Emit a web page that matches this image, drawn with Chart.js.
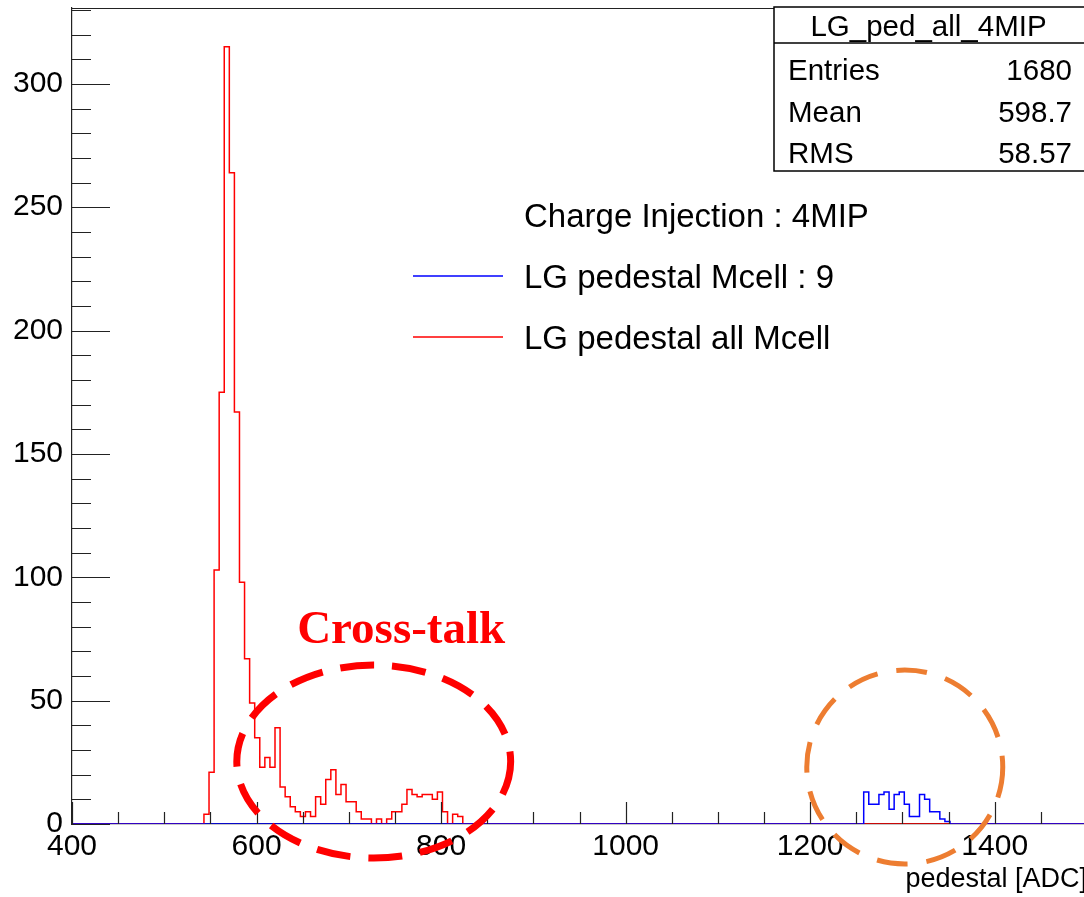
<!DOCTYPE html>
<html>
<head>
<meta charset="utf-8">
<title>LG pedestal</title>
<script src="https://cdn.jsdelivr.net/npm/chart.js@4.4.1/dist/chart.umd.min.js"></script>
<style>
  html, body { margin: 0; padding: 0; background: #fff; overflow: hidden; }
  #wrap { position: relative; width: 1092px; height: 897px; }
</style>
</head>
<body>
<div id="wrap"><canvas id="ped"></canvas></div>
<script>
// Binning: 200 bins of 5.5 ADC between 400 and 1500
const xMin = 400;
const xMax = 1500;
const binWidth = 5.5;
const yMax = 330.75;

// LG pedestal, all Mcells (bin index 26 = 543 ADC onward)
const redFirstBin = 26;
const redCounts = [4, 21, 103, 175, 315, 264, 167, 98, 67, 49,
                   35, 23, 27, 23, 39, 15, 11, 7, 5, 3,
                   5, 3, 11, 8, 18, 22, 12, 16, 9, 9,
                   5, 2, 2, 0, 2, 0, 2, 5, 5, 8,
                   14, 12, 11, 12, 12, 10, 13, 5, 0, 4,
                   3];

// LG pedestal, Mcell 9 (bin index 156 = 1258 ADC onward)
const blueFirstBin = 156;
const blueCounts = [13, 8, 8, 12, 13, 6, 12, 13, 8, 3, 3, 12, 10, 5, 5, 2, 1];

const xTickLabels = [400, 600, 800, 1000, 1200, 1400];
const yTickLabels = [0, 50, 100, 150, 200, 250, 300];

const legendHeader = 'Charge Injection : 4MIP';
const seriesNames = ['LG pedestal Mcell : 9', 'LG pedestal all Mcell'];

const statsTitle = 'LG_ped_all_4MIP';
const statsLabels = ['Entries', 'Mean', 'RMS'];
const statsValues = ['1680', '598.7', '58.57'];

const SANS = "'Liberation Sans', Arial, Helvetica, sans-serif";
const SERIF = "'Liberation Serif', 'Times New Roman', serif";

// step outline: left edge of each bin carries its count
function stepPoints(firstBin, counts) {
  const pts = [{ x: xMin, y: 0 }];
  counts.forEach((c, i) => pts.push({ x: xMin + (firstBin + i) * binWidth, y: c }));
  pts.push({ x: xMin + (firstBin + counts.length) * binWidth, y: 0 });
  pts.push({ x: xMax, y: 0 });
  return pts;
}

// keep the plot frame exactly where the layout puts it
function fixBox(size, prop) {
  return s => {
    s[prop] = size;
    s.paddingTop = 0;
    s.paddingBottom = 0;
    s.paddingLeft = 0;
    s.paddingRight = 0;
  };
}

// ROOT style frame, inward ticks, stat box, legend and marks
const rootDecor = {
  id: 'rootDecor',
  afterDraw(chart) {
    const ctx = chart.ctx;
    const { left, right, top, bottom } = chart.chartArea;
    const xs = chart.scales.x;
    const ys = chart.scales.y;

    ctx.save();
    // frame + ticks
    ctx.strokeStyle = '#222';
    ctx.lineWidth = 1.2;
    ctx.beginPath();
    ctx.moveTo(left, top + 0.5);
    ctx.lineTo(right, top + 0.5);
    ctx.lineTo(right, bottom);
    for (let v = 0; v <= yMax; v += 10) {
      const y = Math.round(ys.getPixelForValue(v)) + 0.5;
      const len = v % 50 === 0 ? 38 : 19;
      ctx.moveTo(left, y);
      ctx.lineTo(left + len, y);
    }
    for (let v = xMin; v <= xMax; v += 50) {
      const x = Math.round(xs.getPixelForValue(v)) + 0.5;
      const len = (v - xMin) % 200 === 0 ? 22 : 12;
      ctx.moveTo(x, bottom);
      ctx.lineTo(x, bottom - len);
    }
    ctx.stroke();

    // stat box
    const bx = 774, by = 7, bw = 330, bh = 164;
    ctx.fillStyle = '#fff';
    ctx.fillRect(bx, by, bw, bh);
    ctx.strokeStyle = '#000';
    ctx.lineWidth = 1.5;
    ctx.strokeRect(bx, by, bw, bh);
    ctx.beginPath();
    ctx.moveTo(bx, 43);
    ctx.lineTo(bx + bw, 43);
    ctx.stroke();
    ctx.fillStyle = '#000';
    ctx.font = '29.5px ' + SANS;
    ctx.textBaseline = 'alphabetic';
    ctx.textAlign = 'center';
    ctx.fillText(statsTitle, 928.5, 36);
    statsLabels.forEach((lab, i) => {
      const yb = 80 + i * 41.5;
      ctx.textAlign = 'left';
      ctx.fillText(lab, 788, yb);
      ctx.textAlign = 'right';
      ctx.fillText(statsValues[i], 1072, yb);
    });

    // legend
    ctx.font = '33px ' + SANS;
    ctx.textAlign = 'left';
    ctx.fillText(legendHeader, 524, 227);
    const ds = chart.data.datasets;
    [0, 1].forEach(i => {
      const ly = 276 + i * 61;
      ctx.strokeStyle = ds[i].borderColor;
      ctx.lineWidth = 1.5;
      ctx.beginPath();
      ctx.moveTo(413, ly);
      ctx.lineTo(503, ly);
      ctx.stroke();
      ctx.fillStyle = '#000';
      ctx.fillText(seriesNames[i], 524, ly + 12);
    });

    // cross-talk label and dashed rings, placed in data coordinates
    ctx.fillStyle = '#ff0000';
    ctx.font = 'bold 47px ' + SERIF;
    ctx.fillText('Cross-talk', xs.getPixelForValue(644), ys.getPixelForValue(73.3));

    const ring = (cx, cy, rx, ry, color, width, dash) => {
      const px = xs.getPixelForValue(cx);
      const py = ys.getPixelForValue(cy);
      ctx.strokeStyle = color;
      ctx.lineWidth = width;
      ctx.setLineDash(dash);
      ctx.beginPath();
      ctx.ellipse(px, py, xs.getPixelForValue(cx + rx) - px, py - ys.getPixelForValue(cy + ry), 0, 0, Math.PI * 2);
      ctx.stroke();
    };
    ring(727, 25.3, 148.4, 39.1, '#ff0000', 7, [34, 18]);
    ring(1302.5, 23.1, 106.2, 39.3, '#ed7d31', 5, [31, 19]);
    ctx.restore();
  }
};

const tickFont = { family: SANS, size: 30 };

new Chart(document.getElementById('ped'), {
  type: 'line',
  data: {
    datasets: [
      {
        label: seriesNames[0],
        data: stepPoints(blueFirstBin, blueCounts),
        borderColor: '#0000ff',
        borderWidth: 1.5,
        stepped: 'before',
        pointRadius: 0,
        fill: false
      },
      {
        label: seriesNames[1],
        data: stepPoints(redFirstBin, redCounts),
        borderColor: '#ff0000',
        borderWidth: 1.5,
        stepped: 'before',
        pointRadius: 0,
        fill: false
      }
    ]
  },
  options: {
    responsive: true,
    maintainAspectRatio: false,
    animation: false,
    layout: { padding: { top: 8, right: 5, left: 0, bottom: 0 } },
    plugins: {
      legend: { display: false },
      tooltip: { enabled: false }
    },
    scales: {
      x: {
        type: 'linear',
        min: xMin,
        max: xMax,
        afterFit: fixBox(73, 'height'),
        afterBuildTicks: s => { s.ticks = xTickLabels.map(v => ({ value: v })); },
        grid: { display: false, drawTicks: false },
        border: { display: true, color: '#222', width: 1.2 },
        ticks: {
          font: tickFont, color: '#000', padding: 5, maxRotation: 0, autoSkip: false,
          callback: v => String(v)
        },
        title: {
          display: true,
          text: 'pedestal [ADC]',
          align: 'end',
          color: '#000',
          font: { family: SANS, size: 27 },
          padding: { top: 0, bottom: 1 }
        }
      },
      y: {
        type: 'linear',
        min: 0,
        max: yMax,
        afterFit: fixBox(72, 'width'),
        afterBuildTicks: s => { s.ticks = yTickLabels.map(v => ({ value: v })); },
        grid: { display: false, drawTicks: false },
        border: { display: true, color: '#222', width: 1.2 },
        ticks: { font: tickFont, color: '#000', padding: 9, callback: v => String(v) }
      }
    }
  },
  plugins: [rootDecor]
});
</script>
</body>
</html>
